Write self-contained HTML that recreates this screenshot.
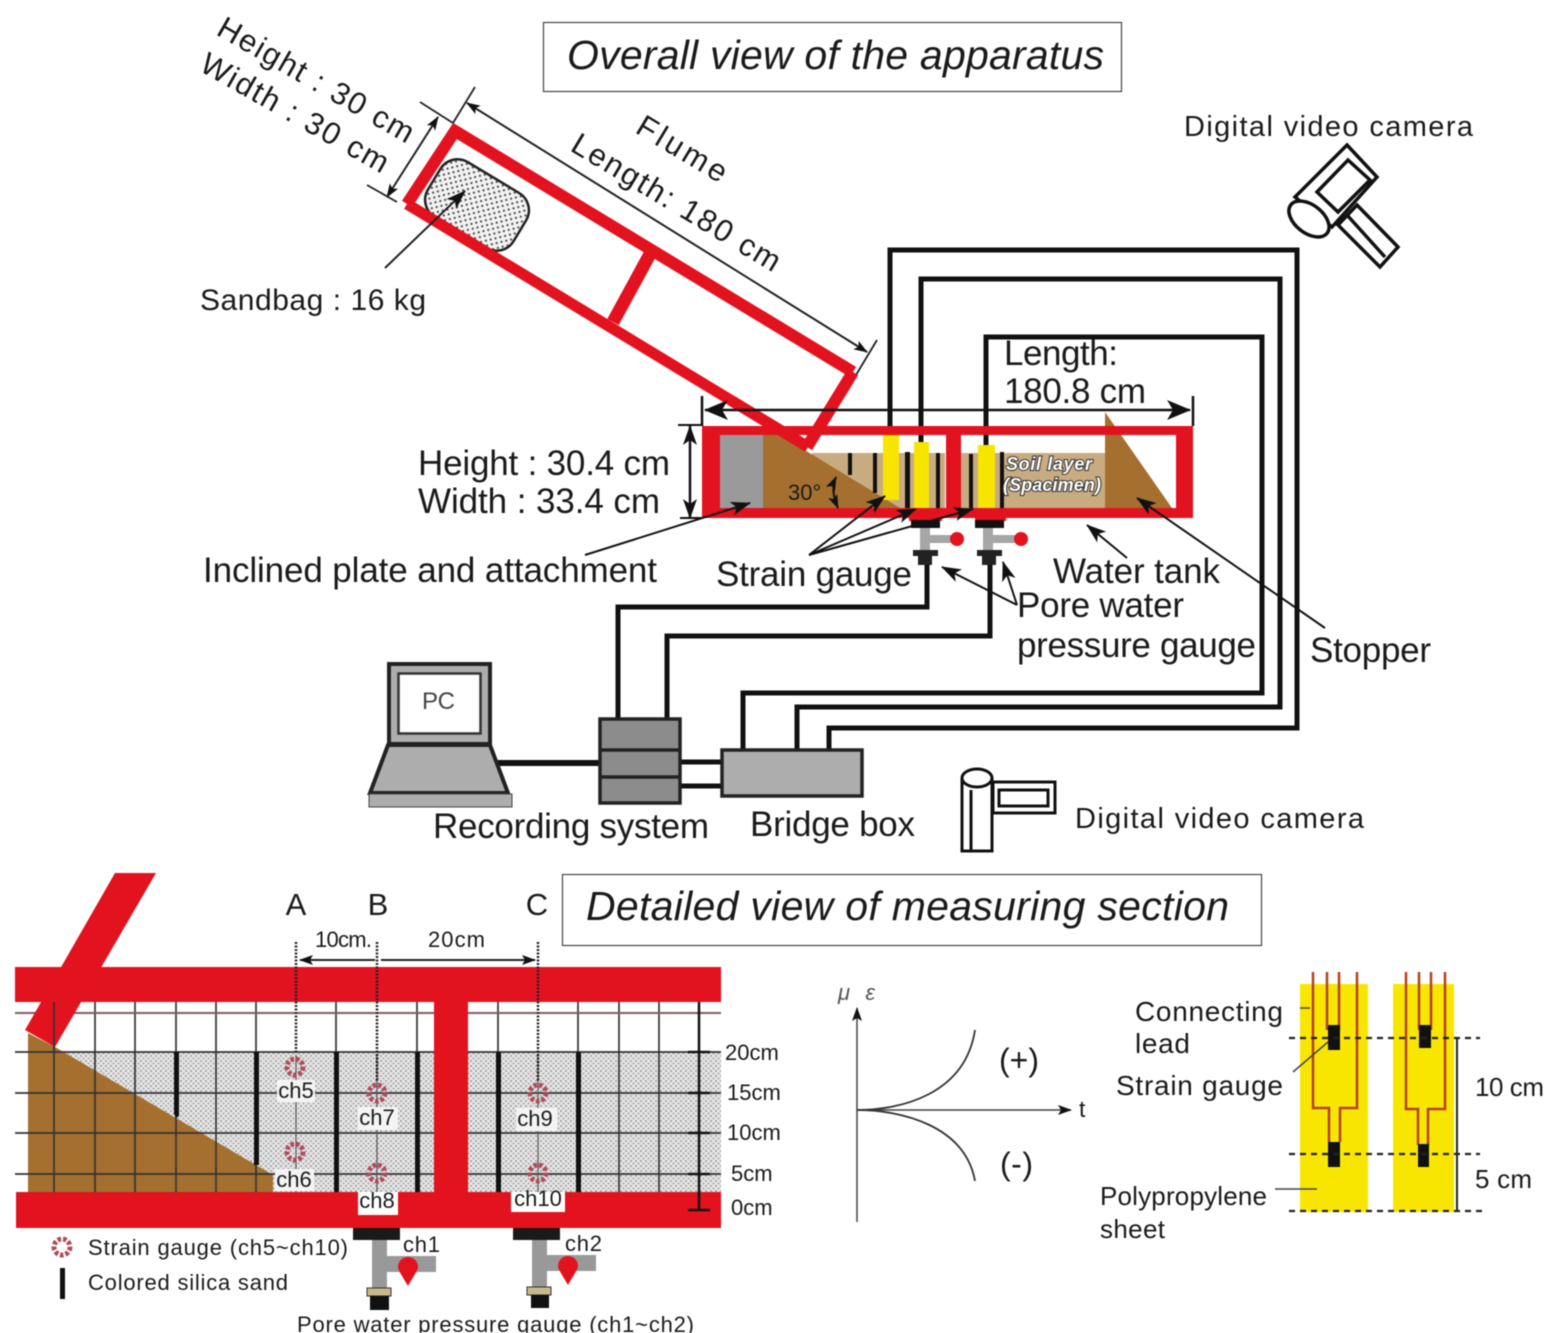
<!DOCTYPE html>
<html><head><meta charset="utf-8">
<style>
html,body{margin:0;padding:0;background:#fff;width:1560px;height:1333px;overflow:hidden}
svg{display:block;filter:blur(.6px)}
text{font-family:"Liberation Sans",sans-serif;fill:#1a1a1a}
</style></head><body>
<svg width="1560" height="1333" viewBox="0 0 1560 1333" xmlns="http://www.w3.org/2000/svg">
<defs>
<pattern id="st" width="5" height="5" patternUnits="userSpaceOnUse">
<rect width="5" height="5" fill="#e4e4e4"/><circle cx="1" cy="1" r=".9" fill="#8a8a8a"/><circle cx="3.5" cy="3.5" r=".9" fill="#999"/>
</pattern>
<pattern id="st2" width="7" height="7" patternUnits="userSpaceOnUse">
<rect width="7" height="7" fill="#f2f2f2"/><circle cx="1.500" cy="1.500" r="1.100" fill="#444"/><circle cx="5" cy="5" r="1.100" fill="#444"/>
</pattern>
<marker id="a" viewBox="0 0 20 14" refX="19" refY="7" markerWidth="20" markerHeight="14" markerUnits="userSpaceOnUse" orient="auto-start-reverse">
<path d="M0 0L20 7L0 14L5 7Z" fill="#111"/></marker>
<marker id="b" viewBox="0 0 24 20" refX="23" refY="10" markerWidth="24" markerHeight="20" markerUnits="userSpaceOnUse" orient="auto-start-reverse">
<path d="M0 0L24 10L0 20L6 10Z" fill="#111"/></marker>
<marker id="s" viewBox="0 0 14 10" refX="13" refY="5" markerWidth="14" markerHeight="10" markerUnits="userSpaceOnUse" orient="auto-start-reverse">
<path d="M0 0L14 5L0 10L3 5Z" fill="#111"/></marker>
</defs>

<!-- title boxes -->
<rect x="543.5" y="22.5" width="578" height="69" fill="#fff" stroke="#444" stroke-width="1.2"/>
<text x="567" y="69" font-size="41" font-style="italic" textLength="537">Overall view of the apparatus</text>
<rect x="562.5" y="874.5" width="699" height="71" fill="#fff" stroke="#444" stroke-width="1.2"/>
<text x="586" y="920" font-size="41" font-style="italic" textLength="643">Detailed view of measuring section</text>

<!-- flume -->
<rect x="-50" y="-32" width="100" height="64" rx="20" transform="translate(477 205) rotate(31)" fill="url(#st2)" stroke="#222" stroke-width="2.5"/>
<path d="M407 204L455 131L853 372" fill="none" stroke="#e3121f" stroke-width="12"/>
<path d="M407 204L808 447" fill="none" stroke="#e3121f" stroke-width="11"/>
<path d="M650 254L613 322" stroke="#e3121f" stroke-width="13"/>
<path d="M438 117L387 197" stroke="#222" stroke-width="2" marker-start="url(#s)" marker-end="url(#s)"/>
<path d="M420 102L453 123M367 185L397 202M475 87L453 123M877 340L856 375" stroke="#222" stroke-width="1.800"/>
<path d="M467 103L867 352" stroke="#222" stroke-width="2" marker-start="url(#s)" marker-end="url(#s)"/>
<path d="M385 268L465 191" stroke="#222" stroke-width="2" marker-end="url(#a)"/>

<g font-size="31">
<text transform="translate(215 34) rotate(29.800)" textLength="221">Height : 30 cm</text>
<text transform="translate(198 70) rotate(29.500)" textLength="211">Width : 30 cm</text>
<text transform="translate(634 132) rotate(31)" textLength="100">Flume</text>
<text transform="translate(569 150) rotate(31)" textLength="238">Length: 180 cm</text>
</g>
<text x="200" y="310" font-size="30" textLength="226">Sandbag : 16 kg</text>
<text x="1184" y="136" font-size="29" textLength="289">Digital video camera</text>

<!-- camera top -->
<g fill="#fff" stroke="#111" stroke-width="3.5">
<path d="M1357 205L1398 247L1380 267L1338 225Z"/>
<path d="M1347 215L1385 257" fill="none"/>
<path d="M1347 145L1377 177L1332 227L1295 197Z"/>
<path d="M1348 160L1370 180L1338 212L1317 192Z"/>
<ellipse cx="1309" cy="219" rx="23" ry="14" transform="rotate(38 1309 219)"/>
</g>

<!-- wires -->
<g fill="none" stroke="#111" stroke-width="5">
<path d="M890 435V250H1297V728H829V750"/>
<path d="M921 442V279H1280V707H797V750"/>
<path d="M986 445V337H1262V693H743V750"/>
<path d="M927 560V607H618V720"/>
<path d="M990 560V636H667V720"/>
<path d="M680 762H722M680 786H722"/>
</g>
<path d="M498 763H600" stroke="#111" stroke-width="6"/>

<!-- tank -->
<rect x="720" y="435" width="43" height="73" fill="#9a9a9a"/>
<path d="M812 453H945V508H812ZM961 453H1105V508H961Z" fill="#c8ab80"/>
<path d="M763 435H780L900 508H763Z" fill="#a5702f"/>
<path d="M1105 412L1172 508H1105Z" fill="#a5702f"/>
<rect x="702" y="426" width="18" height="92" fill="#e3121f"/>
<rect x="1176" y="426" width="17" height="92" fill="#e3121f"/>
<rect x="702" y="426" width="491" height="9" fill="#e3121f"/>
<rect x="702" y="508" width="491" height="10" fill="#e3121f"/>
<rect x="946" y="426" width="15" height="92" fill="#e3121f"/>
<path d="M807 447L853 372" stroke="#e3121f" stroke-width="12"/>
<path d="M732 401L808 447" stroke="#e3121f" stroke-width="11"/>

<g fill="#111">
<rect x="848" y="453" width="4" height="22"/>
<rect x="873" y="453" width="4" height="40"/>
<rect x="905" y="452" width="5" height="56"/>
<rect x="936" y="453" width="4" height="55"/>
<rect x="969" y="454" width="4" height="54"/>
<rect x="1000" y="452" width="4" height="56"/>
</g>
<rect x="883" y="435" width="16" height="65" fill="#f7e500"/>
<rect x="914" y="442" width="15" height="66" fill="#f7e500"/>
<rect x="978" y="445" width="17" height="63" fill="#f7e500"/>
<rect x="909" y="508" width="33" height="13" fill="#e3121f"/>
<rect x="975" y="508" width="31" height="13" fill="#e3121f"/>
<rect x="911" y="520" width="29" height="8" fill="#111"/>
<rect x="975" y="520" width="29" height="8" fill="#111"/>
<g fill="#a6a6a6">
<rect x="920" y="528" width="10" height="23"/><rect x="925" y="535" width="28" height="8"/>
<rect x="983" y="528" width="10" height="23"/><rect x="988" y="535" width="28" height="8"/>
</g>
<circle cx="957" cy="539" r="7" fill="#e3121f"/><circle cx="1021" cy="539" r="7" fill="#e3121f"/>
<g fill="#222">
<rect x="913" y="550" width="25" height="6"/><rect x="918" y="555" width="14" height="10"/>
<rect x="977" y="550" width="25" height="6"/><rect x="982" y="555" width="14" height="10"/>
</g>

<text x="788" y="500" font-size="22">30°</text>
<path d="M836 477Q830 490 838 508" fill="none" stroke="#111" stroke-width="2" marker-start="url(#s)" marker-end="url(#s)"/>
<text x="1006" y="470" font-size="18" font-weight="bold" font-style="italic" textLength="86" style="fill:#fff;stroke:#333;stroke-width:2;paint-order:stroke">Soil layer</text>
<text x="1003" y="491" font-size="18" font-weight="bold" font-style="italic" textLength="98" style="fill:#fff;stroke:#333;stroke-width:2;paint-order:stroke">(Spacimen)</text>

<!-- dims -->
<path d="M705 410H1190" stroke="#111" stroke-width="2.5" marker-start="url(#b)" marker-end="url(#b)"/>
<path d="M702 396V426M1193 396V426" stroke="#111" stroke-width="2.5"/>
<path d="M690 426V518" stroke="#111" stroke-width="2.5" marker-start="url(#a)" marker-end="url(#a)"/>
<path d="M678 425H702M680 518H702" stroke="#111" stroke-width="2"/>
<g font-size="35">
<text x="1004" y="365" textLength="114">Length:</text>
<text x="1004" y="403" textLength="142">180.8 cm</text>
<text x="418" y="475" textLength="252">Height : 30.4 cm</text>
<text x="418" y="513" textLength="242">Width : 33.4 cm</text>
<text x="203" y="582" textLength="454">Inclined plate and attachment</text>
<text x="716" y="586" textLength="196">Strain gauge</text>
<text x="1053" y="583" textLength="167">Water tank</text>
<text x="1017" y="617" textLength="167">Pore water</text>
<text x="1017" y="657" textLength="239">pressure gauge</text>
<text x="1310" y="662" textLength="121">Stopper</text>
<text x="433" y="838" textLength="276">Recording system</text>
<text x="750" y="836" textLength="165">Bridge box</text>
</g>
<g stroke="#111" stroke-width="2" fill="none">
<path d="M585 555L750 503" marker-end="url(#a)"/>
<path d="M809 555L885 496" marker-end="url(#a)"/>
<path d="M809 555L916 509" marker-end="url(#a)"/>
<path d="M809 555L973 509" marker-end="url(#a)"/>
<path d="M1127 558L1087 525" marker-end="url(#a)"/>
<path d="M1325 628L1137 498" marker-end="url(#a)"/>
<path d="M1017 605L942 567" marker-end="url(#a)"/>
<path d="M1017 605L1003 562" marker-end="url(#a)"/>
</g>

<!-- PC -->
<rect x="389" y="664" width="101" height="80" fill="#adadad" stroke="#222" stroke-width="4"/>
<rect x="398.500" y="673.500" width="82" height="60" fill="#fff" stroke="#333" stroke-width="2.500"/>
<path d="M388 745H490L508 793H370Z" fill="#adadad" stroke="#222" stroke-width="4"/>
<rect x="369" y="794" width="143" height="13" fill="#adadad" stroke="#444" stroke-width="1"/>
<text x="422" y="709" font-size="24" style="fill:#444" textLength="33">PC</text>
<rect x="600" y="719" width="80" height="84" fill="#8c8c8c" stroke="#222" stroke-width="3.500"/>
<path d="M600 750H680M600 777H680" stroke="#222" stroke-width="3.500"/>
<rect x="722" y="750" width="140" height="46" fill="#adadad" stroke="#222" stroke-width="3.500"/>

<!-- camera bottom -->
<g fill="#fff" stroke="#111" stroke-width="3">
<rect x="993" y="782" width="62" height="31"/>
<rect x="999" y="790" width="49" height="16"/>
<path d="M962 778V851H992V778"/>
<path d="M971 790V851"/>
<ellipse cx="977" cy="778" rx="15" ry="9"/>
</g>
<text x="1075" y="828" font-size="29" textLength="289">Digital video camera</text>

<!-- detail section -->
<rect x="55" y="1052" width="666" height="140" fill="url(#st)"/>
<path d="M28 1033L55 1047L273 1175V1192H28Z" fill="#a5702f"/>
<g stroke="#333" stroke-width="1.700" fill="none">
<path d="M15 1052H721M15 1093H721M15 1133H721M15 1174H721" />
<path d="M54 1002V1192M95 1002V1192M135 1002V1192M176 1002V1192M216 1002V1192M256 1002V1192M336 1002V1192M417 1002V1192M498 1002V1192M578 1002V1192M619 1002V1192M659 1002V1192"/>
</g>
<path d="M15 1013H721" stroke="#8a5a60" stroke-width="2"/>
<g fill="#111">
<path d="M174 1052H179V1116L176 1118L174 1114Z"/>
<rect x="254" y="1052" width="5" height="113"/>
<rect x="334" y="1052" width="5" height="140"/>
<rect x="415" y="1052" width="5" height="140"/>
<rect x="496" y="1052" width="5" height="140"/>
<rect x="576" y="1052" width="5" height="140"/>
</g>
<rect x="15" y="967" width="706" height="35" fill="#e3121f"/>
<rect x="16" y="1192" width="705" height="36" fill="#e3121f"/>
<rect x="434" y="1000" width="34" height="195" fill="#e3121f"/>
<path d="M115 873H156L55 1047L25 1030Z" fill="#e3121f"/>
<path d="M54 1002V1050" stroke="#333" stroke-width="1.700"/>
<path d="M296 1055V1192M377 1055V1192M538 1055V1192" stroke="#555" stroke-width="1.200"/>

<g stroke="#222" stroke-width="2.500" stroke-dasharray="2 1.500" fill="none">
<path d="M296 942V1052M377 942V1082M538 942V1082"/>
</g>
<path d="M300 960H375M381 960H535" stroke="#222" stroke-width="2" marker-start="url(#s)" marker-end="url(#s)"/>
<text x="296" y="915" font-size="31" text-anchor="middle">A</text>
<text x="378" y="915" font-size="31" text-anchor="middle">B</text>
<text x="537" y="915" font-size="31" text-anchor="middle">C</text>
<text x="315" y="947" font-size="22" textLength="57">10cm.</text>
<text x="428" y="947" font-size="22" textLength="57">20cm</text>

<!-- gauges -->
<g fill="#c9d" fill-opacity="0" stroke="#b04a5a" stroke-width="5" stroke-dasharray="3.500 2">
<circle cx="295" cy="1067" r="8"/><circle cx="295" cy="1152" r="8"/><circle cx="377" cy="1093" r="8"/>
<circle cx="377" cy="1173" r="8"/><circle cx="538" cy="1093" r="8"/><circle cx="538" cy="1173" r="8"/>
<circle cx="62" cy="1247" r="8"/>
</g>
<g fill="#f4f4f4">
<rect x="277" y="1080" width="38" height="22"/><rect x="275" y="1169" width="39" height="22"/>
<rect x="358" y="1107" width="40" height="23"/><rect x="516" y="1108" width="41" height="23"/>
</g>
<rect x="358" y="1192" width="40" height="23" fill="#fff"/>
<rect x="511" y="1192" width="54" height="20" fill="#fff"/>
<g font-size="22" text-anchor="middle">
<text x="296" y="1098">ch5</text><text x="294" y="1187">ch6</text>
<text x="377" y="1125">ch7</text><text x="377" y="1208">ch8</text>
<text x="535" y="1126">ch9</text><text x="538" y="1206">ch10</text>
</g>

<!-- right scale -->
<path d="M699 1002V1210M688 1052H710M688 1093H710M688 1133H710M688 1174H710M688 1210H710" stroke="#111" stroke-width="2.500" fill="none"/>
<g font-size="22">
<text x="725" y="1060">20cm</text><text x="727" y="1100">15cm</text><text x="727" y="1140">10cm</text><text x="731" y="1181">5cm</text><text x="731" y="1215">0cm</text>
</g>

<!-- pore gauges -->
<g>
<rect x="353" y="1228" width="47" height="12" fill="#1a1a1a"/>
<rect x="372" y="1240" width="15" height="50" fill="#999"/>
<rect x="380" y="1256" width="56" height="16" fill="#999"/>
<path d="M408 1286C401 1274 398 1270 398 1267A10 10 0 0 1 418 1267C418 1270 415 1274 408 1286Z" fill="#e3121f"/>
<rect x="367" y="1288" width="24" height="8" fill="#c8b98c" stroke="#333"/>
<rect x="370" y="1296" width="19" height="14" fill="#111"/>
</g>
<g>
<rect x="513" y="1228" width="47" height="12" fill="#1a1a1a"/>
<rect x="532" y="1240" width="15" height="50" fill="#999"/>
<rect x="540" y="1255" width="56" height="16" fill="#999"/>
<path d="M568 1285C561 1273 558 1269 558 1266A10 10 0 0 1 578 1266C578 1269 575 1273 568 1285Z" fill="#e3121f"/>
<rect x="527" y="1287" width="24" height="8" fill="#c8b98c" stroke="#333"/>
<rect x="531" y="1295" width="18" height="13" fill="#111"/>
</g>
<text x="403" y="1252" font-size="22" textLength="37">ch1</text>
<text x="565" y="1251" font-size="22" textLength="37">ch2</text>

<!-- legend -->
<text x="88" y="1255" font-size="22" textLength="260">Strain gauge (ch5~ch10)</text>
<rect x="60" y="1268" width="5" height="31" fill="#111"/>
<text x="88" y="1290" font-size="22" textLength="200">Colored silica sand</text>
<text x="297" y="1332" font-size="22" textLength="397">Pore water pressure gauge (ch1~ch2)</text>

<!-- graph -->
<path d="M857 1222V1008" stroke="#444" stroke-width="1.500" marker-end="url(#s)"/>
<path d="M857 1110H1071" stroke="#444" stroke-width="1.500" marker-end="url(#s)"/>
<path d="M857 1110C900 1110 965 1095 975 1030M857 1110C900 1110 965 1125 975 1181" fill="none" stroke="#333" stroke-width="1.800"/>
<text x="838" y="1000" font-size="22" font-style="italic" textLength="37" style="fill:#555">μ ε</text>
<text x="1079" y="1117" font-size="23">t</text>
<text x="999" y="1071" font-size="32" textLength="40">(+)</text>
<text x="1000" y="1175" font-size="32" textLength="33">(-)</text>

<!-- strain sheets -->
<rect x="1300" y="984" width="68" height="228" fill="#f9e600"/>
<rect x="1393" y="984" width="61" height="228" fill="#f9e600"/>
<g fill="none" stroke="#b5401c" stroke-width="2.500">
<path d="M1313 972V1108H1329V1142M1357 972V1108H1340V1142M1327 972V1030M1339 972V1030"/>
<path d="M1406 972V1109H1418V1145M1445 972V1109H1428V1145M1419 972V1030M1431 972V1030"/>
</g>
<g fill="#111">
<rect x="1328" y="1025" width="12" height="25"/><rect x="1328" y="1142" width="12" height="25"/>
<rect x="1419" y="1025" width="12" height="23"/><rect x="1418" y="1144" width="11" height="23"/>
</g>
<path d="M1289 1038H1480M1289 1154H1480M1289 1211H1482" stroke="#222" stroke-width="2.200" stroke-dasharray="6 5" fill="none"/>
<path d="M1457 1038V1211" stroke="#222" stroke-width="2"/>
<path d="M1300 1008H1310M1293 1072L1328 1042M1275 1189H1317" stroke="#444" stroke-width="1.500" fill="none"/>
<g font-size="28">
<text x="1135" y="1021" textLength="148">Connecting</text>
<text x="1135" y="1053" textLength="55">lead</text>
<text x="1116" y="1095" textLength="167">Strain gauge</text>
<text x="1100" y="1205" font-size="26" textLength="167">Polypropylene</text>
<text x="1100" y="1238" font-size="26" textLength="65">sheet</text>
<text x="1475" y="1096" font-size="26" textLength="69">10 cm</text>
<text x="1475" y="1188" font-size="26" textLength="57">5 cm</text>
</g>
</svg>
</body></html>
